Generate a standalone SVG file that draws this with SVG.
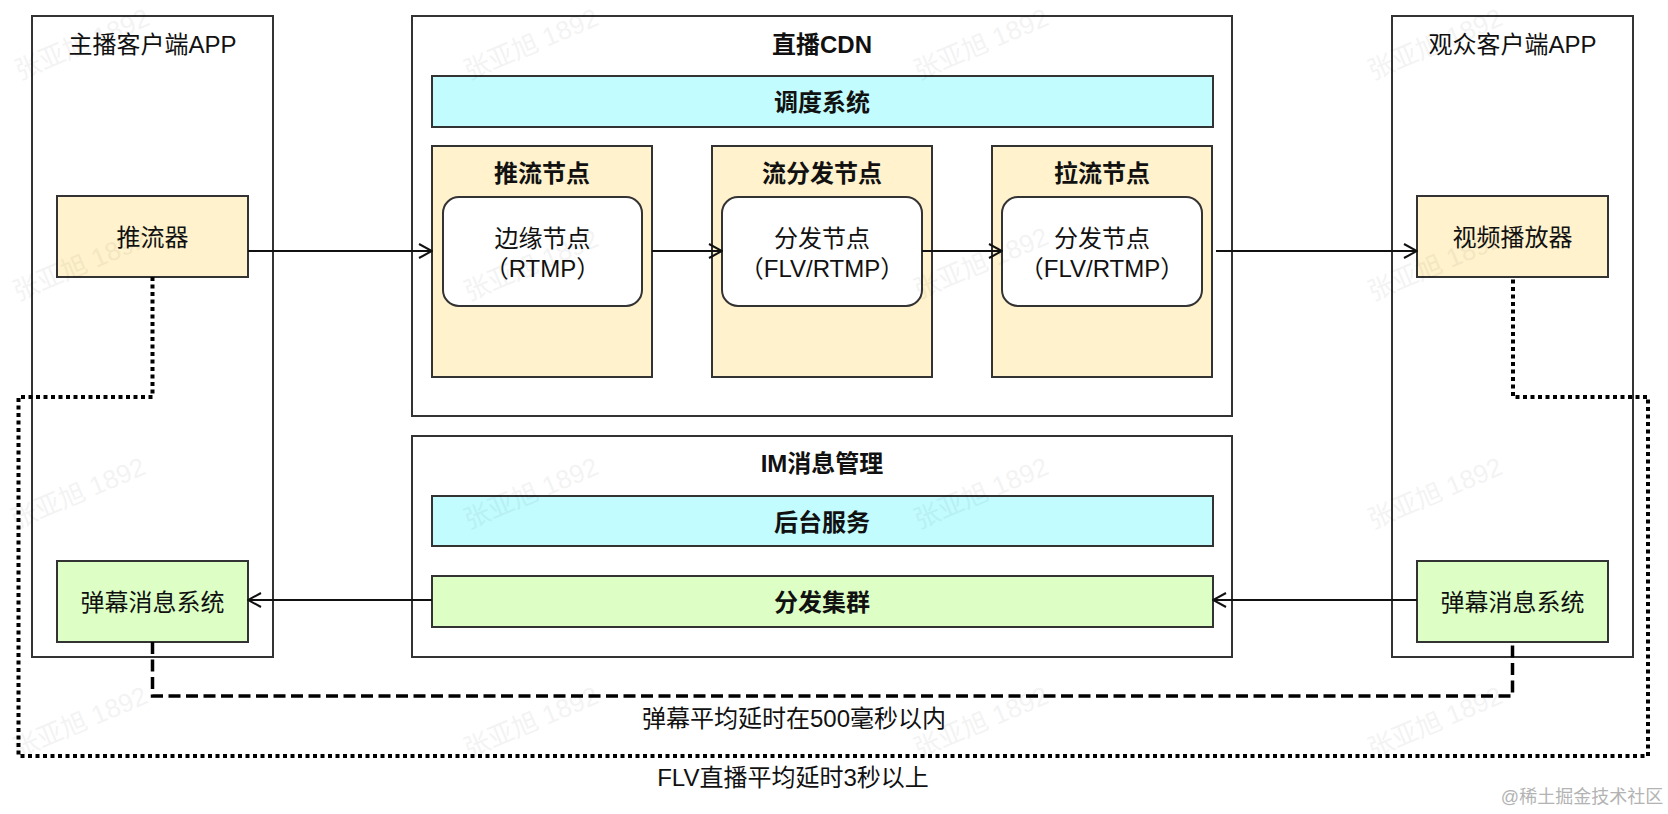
<svg xmlns="http://www.w3.org/2000/svg" width="1668" height="814" viewBox="0 0 1668 814">
<style>
text{font-family:"Liberation Sans","Noto Sans CJK SC",sans-serif;font-size:24px;fill:#111;text-anchor:middle;dominant-baseline:central}
.b{font-weight:bold}
.box{stroke:#333;stroke-width:2}
.cont{fill:#fff;stroke:#333;stroke-width:2}
.y{fill:#fff2cc}
.c{fill:#c2fcff}
.g{fill:#ddffc6}
.w{fill:#fff}
.con{fill:none;stroke:#111;stroke-width:2}
.wm{font-size:26px;fill:#000;opacity:0.045}
</style>
<defs>
<marker id="arr" viewBox="0 0 16 16" markerWidth="16" markerHeight="16" refX="15" refY="8" orient="auto" markerUnits="userSpaceOnUse">
<path d="M2,1 L15,8 L2,15" fill="none" stroke="#111" stroke-width="2"/>
</marker>
</defs>
<rect width="1668" height="814" fill="#fff"/>

<g id="host-app">
<rect class="cont" x="32" y="16" width="241" height="641"/>
<text x="152.5" y="44">主播客户端APP</text>
</g>
<g id="pusher">
<rect class="box y" x="57" y="196" width="191" height="81"/>
<text x="152.5" y="237">推流器</text>
</g>
<g id="danmu-left">
<rect class="box g" x="57" y="561" width="191" height="81"/>
<text x="152.5" y="602">弹幕消息系统</text>
</g>

<g id="cdn">
<rect class="cont" x="412" y="16" width="820" height="400"/>
<text class="b" x="822" y="44">直播CDN</text>
</g>
<g id="schedule">
<rect class="box c" x="432" y="76" width="781" height="51"/>
<text class="b" x="822" y="102">调度系统</text>
</g>
<g id="push-node">
<rect class="box y" x="432" y="146" width="220" height="231"/>
<text class="b" x="542" y="173">推流节点</text>
<rect class="box w" x="443" y="197" width="199" height="109" rx="16"/>
<text x="542.5" y="238">边缘节点</text>
<text x="542.5" y="268">（RTMP）</text>
</g>
<g id="dist-node">
<rect class="box y" x="712" y="146" width="220" height="231"/>
<text class="b" x="822" y="173">流分发节点</text>
<rect class="box w" x="722" y="197" width="200" height="109" rx="16"/>
<text x="822" y="238">分发节点</text>
<text x="822" y="268">（FLV/RTMP）</text>
</g>
<g id="pull-node">
<rect class="box y" x="992" y="146" width="220" height="231"/>
<text class="b" x="1102" y="173">拉流节点</text>
<rect class="box w" x="1002" y="197" width="200" height="109" rx="16"/>
<text x="1102" y="238">分发节点</text>
<text x="1102" y="268">（FLV/RTMP）</text>
</g>

<g id="im">
<rect class="cont" x="412" y="436" width="820" height="221"/>
<text class="b" x="822" y="463">IM消息管理</text>
</g>
<g id="backend">
<rect class="box c" x="432" y="496" width="781" height="50"/>
<text class="b" x="822" y="522">后台服务</text>
</g>
<g id="cluster">
<rect class="box g" x="432" y="576" width="781" height="51"/>
<text class="b" x="822" y="602">分发集群</text>
</g>

<g id="viewer-app">
<rect class="cont" x="1392" y="16" width="241" height="641"/>
<text x="1512.5" y="44">观众客户端APP</text>
</g>
<g id="player">
<rect class="box y" x="1417" y="196" width="191" height="81"/>
<text x="1512.5" y="237">视频播放器</text>
</g>
<g id="danmu-right">
<rect class="box g" x="1417" y="561" width="191" height="81"/>
<text x="1512.5" y="602">弹幕消息系统</text>
</g>

<g id="connectors">
<path class="con" d="M248,251 H432" marker-end="url(#arr)"/>
<path class="con" d="M652,251 H722" marker-end="url(#arr)"/>
<path class="con" d="M922,251 H1002" marker-end="url(#arr)"/>
<path class="con" d="M1216,251 H1417" marker-end="url(#arr)"/>
<path class="con" d="M1417,600 H1213" marker-end="url(#arr)"/>
<path class="con" d="M432,600 H248" marker-end="url(#arr)"/>
<path d="M152.5,642 V696 H1512.5 V642" fill="none" stroke="#000" stroke-width="3.5" stroke-dasharray="12 5.5"/>
<path d="M152.5,277 V397 H18.5 V756 H1648 V397 H1513 V277" fill="none" stroke="#000" stroke-width="4" stroke-dasharray="4 3.5"/>
<text x="794" y="718">弹幕平均延时在500毫秒以内</text>
<text x="793" y="777">FLV直播平均延时3秒以上</text>
</g>

<g id="watermarks">
<text class="wm" transform="translate(82,44) rotate(-23)">张亚旭 1892</text>
<text class="wm" transform="translate(531,44) rotate(-23)">张亚旭 1892</text>
<text class="wm" transform="translate(981,44) rotate(-23)">张亚旭 1892</text>
<text class="wm" transform="translate(1435,44) rotate(-23)">张亚旭 1892</text>
<text class="wm" transform="translate(80,265) rotate(-23)">张亚旭 1892</text>
<text class="wm" transform="translate(531,265) rotate(-23)">张亚旭 1892</text>
<text class="wm" transform="translate(981,263) rotate(-23)">张亚旭 1892</text>
<text class="wm" transform="translate(1435,265) rotate(-23)">张亚旭 1892</text>
<text class="wm" transform="translate(78,493) rotate(-23)">张亚旭 1892</text>
<text class="wm" transform="translate(531,493) rotate(-23)">张亚旭 1892</text>
<text class="wm" transform="translate(981,493) rotate(-23)">张亚旭 1892</text>
<text class="wm" transform="translate(1435,493) rotate(-23)">张亚旭 1892</text>
<text class="wm" transform="translate(80,722) rotate(-23)">张亚旭 1892</text>
<text class="wm" transform="translate(531,722) rotate(-23)">张亚旭 1892</text>
<text class="wm" transform="translate(981,722) rotate(-23)">张亚旭 1892</text>
<text class="wm" transform="translate(1435,722) rotate(-23)">张亚旭 1892</text>
</g>
<text x="1582" y="797" style="font-size:18px;fill:#b3b3b3">@稀土掘金技术社区</text>
</svg>
